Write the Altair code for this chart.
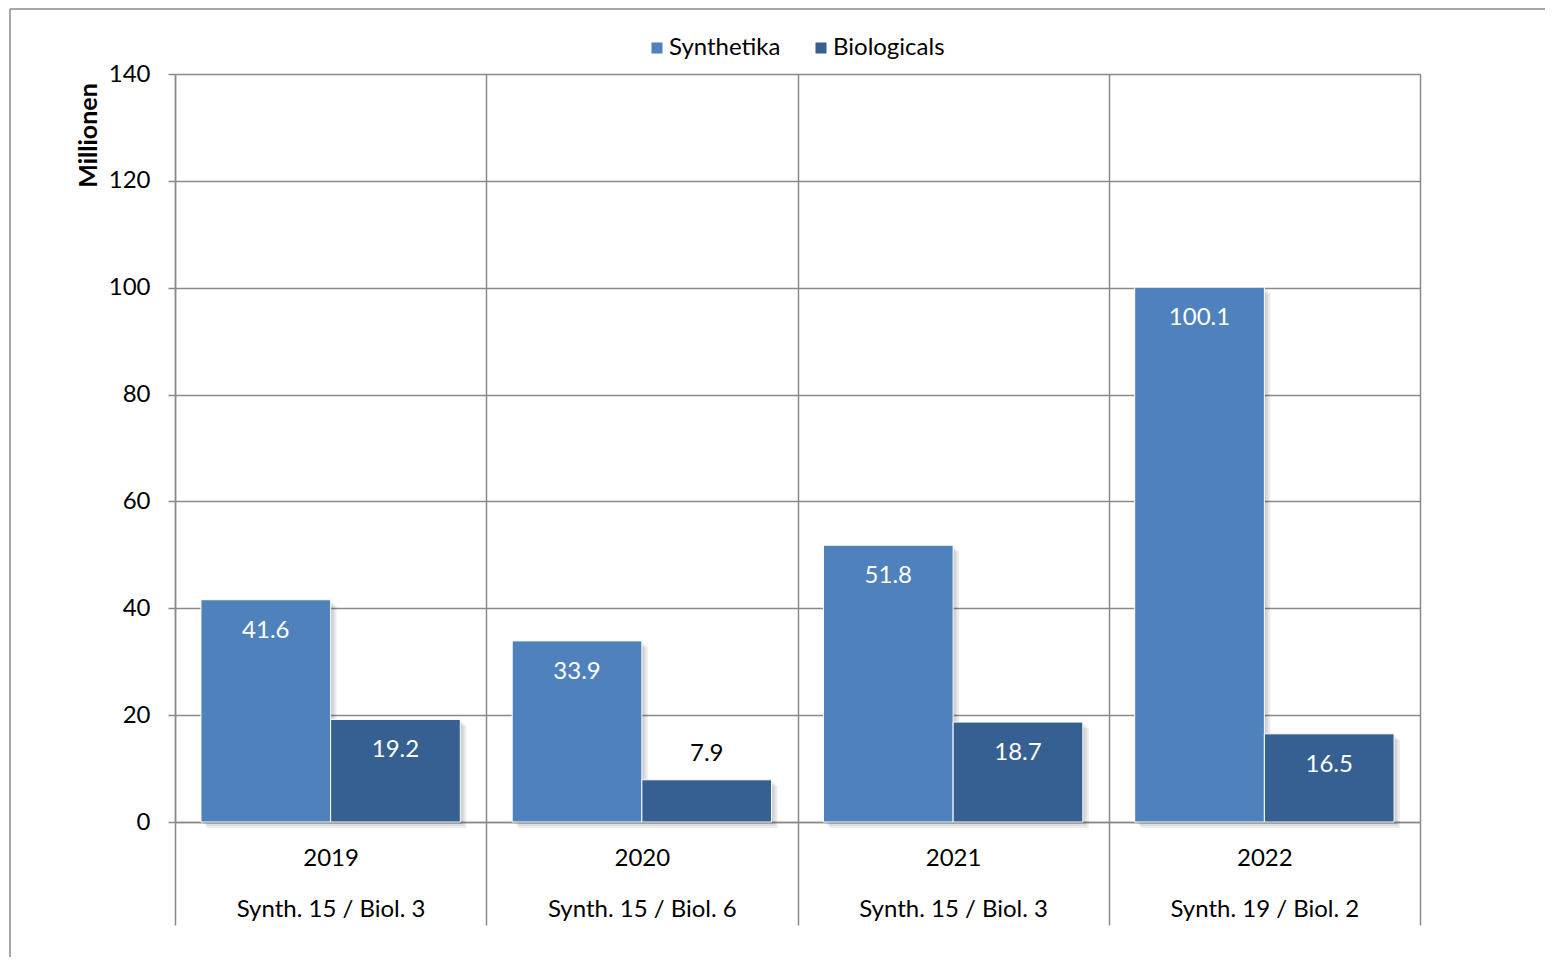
import altair as alt
import pandas as pd

years = ["2019", "2020", "2021", "2022"]
counts = ["Synth. 15 / Biol. 3", "Synth. 15 / Biol. 6", "Synth. 15 / Biol. 3", "Synth. 19 / Biol. 2"]
series = ["Synthetika", "Biologicals"]
synth = [41.6, 33.9, 51.8, 100.1]
biol = [19.2, 7.9, 18.7, 16.5]
colors = ["#4F81BD", "#365F92"]
y_ticks = [0, 20, 40, 60, 80, 100, 120, 140]

cats = [f"{y}|{c}" for y, c in zip(years, counts)]
rows = []
for cat, s, b in zip(cats, synth, biol):
    rows.append({"cat": cat, "series": "Synthetika", "value": s})
    rows.append({"cat": cat, "series": "Biologicals", "value": b})
df = pd.DataFrame(rows)

W, H = 1245, 748
BAND = W / len(cats)
GRAY = "#8a8a8a"
FONT = "Lato"
FS = 24

x_enc = alt.X(
    "cat:N", sort=cats,
    scale=alt.Scale(paddingInner=0, paddingOuter=0),
    axis=alt.Axis(
        title=None, labelExpr="split(datum.label, '|')", labelAngle=0,
        tickBand="extent", tickSize=103, tickColor=GRAY, tickWidth=1.5,
        grid=True, gridColor=GRAY, gridWidth=1.5,
        domainColor=GRAY, domainWidth=1.5,
        labelPadding=-79, labelLineHeight=51, labelFontSize=FS, labelFont=FONT,
        labelColor="#000", labelLimit=500, labelBaseline="top",
    ),
)


def xo(shift=0):
    return alt.XOffset(
        "series:N", sort=series,
        scale=alt.Scale(type="band", domain=series, paddingInner=0, paddingOuter=0.2,
                        range=[shift, BAND + shift]),
    )


y_enc = alt.Y(
    "value:Q", scale=alt.Scale(domain=[0, 140]),
    axis=alt.Axis(
        values=y_ticks, title="Millionen", titleFont=FONT, titleFontSize=25,
        titleFontWeight="bold", titleColor="#000", titleAngle=-90,
        titleX=-87, titleY=61, titleAlign="center", titleBaseline="middle",
        tickSize=7, tickColor=GRAY, tickWidth=1.5, labelPadding=18,
        labelFont=FONT, labelFontSize=FS, labelColor="#000",
        grid=True, gridColor=GRAY, gridWidth=1.5,
        domainColor=GRAY, domainWidth=1.5,
    ),
)
color_enc = alt.Color(
    "series:N", sort=series,
    scale=alt.Scale(domain=series, range=colors),
    legend=alt.Legend(
        title=None, orient="none", legendX=470, legendY=-38, direction="horizontal",
        symbolType="square", symbolSize=121, symbolStrokeWidth=0,
        labelFont=FONT, labelFontSize=FS, labelColor="#000",
        labelOffset=0, columnPadding=28,
    ),
)

shadows = [
    alt.Chart(df).mark_bar(color="#000", opacity=0.07, yOffset=k).encode(
        x=x_enc, xOffset=xo(k), y=y_enc
    )
    for k in (2, 4, 6)
]
base = alt.Chart(df).encode(x=x_enc, xOffset=xo(0), y=y_enc)
bars = base.mark_bar(stroke="white", strokeWidth=1).encode(color=color_enc)
lab_in = base.transform_filter("datum.value >= 10").mark_text(
    font=FONT, fontSize=FS, color="white", dy=31, baseline="middle"
).encode(text=alt.Text("value:Q", format=".1f"))
lab_out = base.transform_filter("datum.value < 10").mark_text(
    font=FONT, fontSize=FS, color="black", dy=-26, baseline="middle"
).encode(text=alt.Text("value:Q", format=".1f"))

frame_df = pd.DataFrame({"k": [0]})
frame_top = alt.Chart(frame_df).mark_rule(color=GRAY, strokeWidth=1.5).encode(
    x=alt.value(-165), x2=alt.value(1370), y=alt.value(-65)
)
frame_left = alt.Chart(frame_df).mark_rule(color=GRAY, strokeWidth=1.5).encode(
    x=alt.value(-165), y=alt.value(-65), y2=alt.value(890)
)

chart = alt.layer(
    frame_top, frame_left, *shadows, bars, lab_in, lab_out
).resolve_scale(
    xOffset="independent"
).properties(
    width=W, height=H,
    autosize=alt.AutoSizeParams(type="none"),
    padding={"left": 167, "top": 66, "right": 125, "bottom": 135},
).configure_view(
    stroke=GRAY, strokeWidth=1.5
).configure(font=FONT)

chart.save("out.html", embed_options={"renderer": "svg", "actions": False})
